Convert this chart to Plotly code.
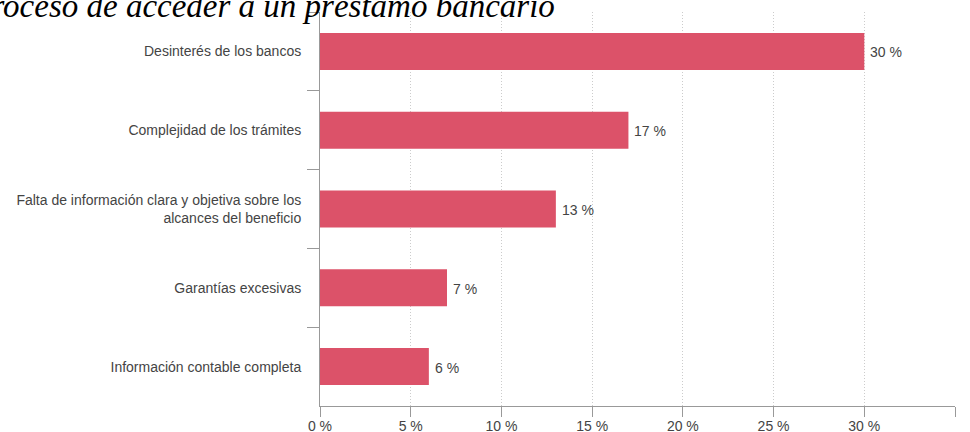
import plotly.graph_objects as go

categories = [
    "Desinterés de los bancos",
    "Complejidad de los trámites",
    "Falta de información clara y objetiva sobre los<br>alcances del beneficio",
    "Garantías excesivas",
    "Información contable completa",
]
values = [30, 17, 13, 7, 6]
x_ticks = [0, 5, 10, 15, 20, 25, 30, 35]

W, H = 970, 432
L, R, T, B = 320, 15, 12, 26
plot_w = W - L - R
plot_h = H - T - B

FONT = "Liberation Sans, Arial, sans-serif"

fig = go.Figure(
    go.Bar(
        y=categories,
        x=values,
        orientation="h",
        marker=dict(color="#dc5269", line=dict(width=0)),
        width=0.47,
        hoverinfo="x+y",
    )
)

# value labels just past the end of each bar
for cat, v in zip(categories, values):
    fig.add_annotation(
        x=v,
        y=cat,
        xref="x",
        yref="y",
        text=f"{v} %",
        xanchor="left",
        yanchor="middle",
        xshift=4,
        yshift=-1,
        showarrow=False,
        font=dict(family=FONT, size=14, color="#444444"),
    )

fig.update_layout(
    width=W,
    height=H,
    margin=dict(l=L, r=R, t=T, b=B, autoexpand=False),
    paper_bgcolor="white",
    plot_bgcolor="white",
    showlegend=False,
    font=dict(family=FONT, size=14, color="#444444"),
)

fig.update_xaxes(
    range=[0, 35],
    tickvals=x_ticks,
    ticktext=[f"{t} %" for t in x_ticks],
    showgrid=True,
    gridcolor="#cccccc",
    griddash="1px,2px",
    gridwidth=1,
    showline=True,
    linecolor="#999999",
    linewidth=1,
    ticks="outside",
    ticklen=10,
    tickcolor="#999999",
    ticklabelstandoff=-3,
    zeroline=False,
    automargin=False,
    tickfont=dict(family=FONT, size=14, color="#444444"),
)

fig.update_yaxes(
    autorange="reversed",
    showgrid=False,
    showline=True,
    linecolor="#999999",
    linewidth=1,
    ticks="outside",
    tickson="boundaries",
    ticklen=12,
    tickcolor="#999999",
    ticklabelstandoff=15,
    automargin=False,
    tickfont=dict(family=FONT, size=14, color="#444444"),
)

# Heading sits partly above the top edge of the page
fig.add_annotation(
    text="<i>proceso de acceder a un préstamo bancario</i>",
    xref="paper",
    yref="paper",
    x=(557 - L) / plot_w,
    y=1 + (T - 26) / plot_h,
    xanchor="right",
    yanchor="bottom",
    showarrow=False,
    font=dict(family="Liberation Serif, Times New Roman, serif", size=33, color="black"),
)

fig.write_html("out.html")
